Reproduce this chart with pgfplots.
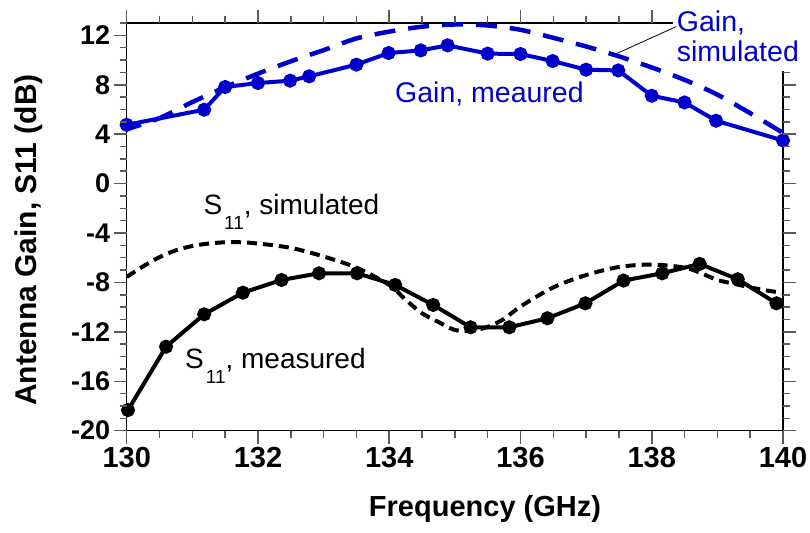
\documentclass[border=0pt]{standalone}
\usepackage{fontspec}
\setmainfont{Liberation Sans}
\usepackage{pgfplots}
\pgfplotsset{compat=1.18}
\definecolor{gblue}{RGB}{0,0,204}
\definecolor{tickgray}{RGB}{90,90,90}
\begin{document}
\begin{tikzpicture}
\path[use as bounding box] (0pt,0pt) rectangle (810pt,532pt);
\begin{axis}[
  at={(126.7pt,101.3pt)}, anchor=south west,
  width=656.3pt, height=407.7pt, scale only axis,
  xmin=130, xmax=140, ymin=-20, ymax=13,
  xtick={130,132,...,140}, ytick={-20,-16,...,12},
  minor x tick num=3, minor y tick num=3,
  tick align=outside,
  major tick length=13pt, minor tick length=7pt,
  tick style={tickgray, line width=1.5pt},
  axis line style={black, line width=1.2pt},
  /pgf/number format/assume math mode=true,
  xticklabel style={font=\bfseries\fontsize{29}{29}\selectfont},
  yticklabel style={font=\bfseries\fontsize{27}{27}\selectfont},
  clip mode=individual,
]
% Gain measured
\addplot[gblue, line width=4pt, mark=*, mark size=5pt, mark options={solid}] coordinates {
(130.0,4.76) (131.18,5.98) (131.50,7.82) (132.0,8.14) (132.49,8.33) (132.78,8.68)
(133.50,9.63) (133.99,10.57) (134.48,10.78) (134.89,11.19) (135.50,10.52) (136.0,10.49)
(136.49,9.92) (137.0,9.22) (137.49,9.16) (138.0,7.11) (138.5,6.57) (138.98,5.09) (140.0,3.49)
};
% Gain simulated
\addplot[gblue, line width=4.5pt, dash pattern=on 21pt off 13pt, dash phase=6pt, smooth] coordinates {
(130.0,4.4) (130.5,5.3) (131.0,6.6) (131.5,7.8) (132.0,8.9) (132.5,9.9) (133.0,10.8)
(133.5,11.75) (134.0,12.3) (134.5,12.7) (135.0,12.88) (135.5,12.8) (136.0,12.45)
(136.5,11.8) (137.0,11.1) (137.5,10.3) (138.0,9.4) (138.5,8.4) (139.0,7.2) (139.5,5.7) (140.0,4.1)
};
% S11 measured
\addplot[black, line width=4pt, mark=*, mark size=5pt, mark options={solid}] coordinates {
(130.02,-18.33) (130.6,-13.2) (131.18,-10.58) (131.77,-8.83) (132.36,-7.80) (132.93,-7.26)
(133.51,-7.26) (134.09,-8.2) (134.67,-9.82) (135.24,-11.63) (135.83,-11.63) (136.41,-10.9)
(136.99,-9.69) (137.57,-7.85) (138.16,-7.26) (138.73,-6.5) (139.31,-7.74) (139.90,-9.69)
};
% S11 simulated
\addplot[black, line width=4pt, dash pattern=on 10pt off 6pt, smooth] coordinates {
(130.0,-7.55) (130.25,-6.7) (130.5,-5.95) (130.75,-5.4) (131.0,-5.05) (131.25,-4.85)
(131.5,-4.75) (131.75,-4.75) (132.0,-4.85) (132.5,-5.2) (133.0,-5.9) (133.5,-6.8)
(134.0,-8.2) (134.25,-9.4) (134.5,-10.5) (134.75,-11.2) (135.0,-11.85) (135.25,-11.9)
(135.5,-11.6) (135.75,-10.95) (136.0,-9.95) (136.5,-8.4) (137.0,-7.4) (137.5,-6.75)
(138.0,-6.55) (138.5,-6.8) (138.75,-7.25) (139.0,-7.8) (139.25,-8.1) (139.5,-8.4)
(139.75,-8.65) (140.0,-8.85)
};
\end{axis}
% axis ticks (frame decoration)
\foreach \i in {0,...,20}{
  \pgfmathsetmacro\xx{126.7+\i*32.815}
  \pgfmathsetmacro\tl{ifthenelse(mod(\i,4)==0,13,7)}
  \draw[tickgray, line width=1.5pt] (\xx pt,101.3pt) -- (\xx pt,101.3pt-\tl pt);
  \draw[tickgray, line width=1.5pt] (\xx pt,509pt) -- (\xx pt,509pt+\tl pt);
}
\foreach \i in {0,...,33}{
  \pgfmathsetmacro\yy{101.3+\i*12.3545}
  \pgfmathsetmacro\tl{ifthenelse(mod(\i,4)==0,13,7)}
  \draw[tickgray, line width=1.5pt] (126.7pt,\yy pt) -- (126.7pt-\tl pt,\yy pt);
  \draw[tickgray, line width=1.5pt] (783pt,\yy pt) -- (783pt+\tl pt,\yy pt);
}
\fill[white] (673pt,461pt) rectangle (810pt,532pt);
\draw[black, line width=0.8pt] (617.3pt,478.7pt) -- (676pt,505.3pt);
\node[anchor=base west, inner sep=0, text=gblue, font=\fontsize{28.5}{28.5}\selectfont] at (395pt,429pt) {Gain, meaured};
\node[anchor=base west, inner sep=0, text=gblue, font=\fontsize{28.5}{28.5}\selectfont] at (676.7pt,500.3pt) {Gain,};
\node[anchor=base west, inner sep=0, text=gblue, font=\fontsize{28.5}{28.5}\selectfont] at (676.7pt,470.3pt) {simulated};
\node[anchor=base west, inner sep=0, font=\fontsize{28}{28}\selectfont] at (203.3pt,317pt) {S\kern2pt\raisebox{-15pt}{\fontsize{19}{19}\selectfont 11}, simulated};
\node[anchor=base west, inner sep=0, font=\fontsize{28}{28}\selectfont] at (185pt,163.7pt) {S\kern2pt\raisebox{-15pt}{\fontsize{19}{19}\selectfont 11}, measured};
\node[anchor=base, inner sep=0, font=\bfseries\fontsize{29}{29}\selectfont] at (485pt,15pt) {Frequency (GHz)};
\node[anchor=base, inner sep=0, rotate=90, font=\bfseries\fontsize{30}{30}\selectfont] at (36.7pt,292pt) {Antenna Gain, S11 (dB)};
\end{tikzpicture}
\end{document}
